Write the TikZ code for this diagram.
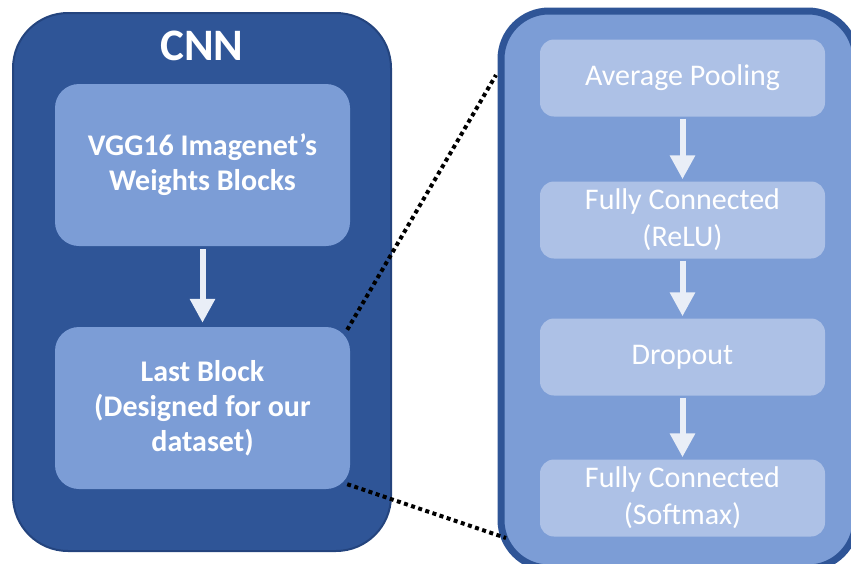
\documentclass[tikz,border=0pt]{standalone}
\usepackage{fontspec}
\setmainfont{Carlito}
\usetikzlibrary{arrows.meta,positioning,calc}
\definecolor{deep}{HTML}{2F5597}
\definecolor{deepline}{HTML}{24447E}
\definecolor{mid}{HTML}{7C9DD6}
\definecolor{pale}{HTML}{ADC1E6}
\definecolor{flow}{HTML}{E9EEF7}

\begin{document}
\begin{tikzpicture}[x=1pt,y=-1pt,
  block/.style={rounded corners=24pt,fill=mid,minimum width=295pt,minimum height=162pt,
                align=center,text=white,font=\fontsize{30}{35}\selectfont\bfseries},
  layer/.style={rounded corners=14pt,fill=pale,minimum width=285pt,minimum height=77pt,
                align=center,text=white,font=\fontsize{30}{37}\selectfont},
  flowarrow/.style={draw=flow,line width=6pt,-{Triangle[width=24pt,length=24pt]}},
  zoomline/.style={line width=4pt,dash pattern=on 4pt off 3.5pt}]
  \useasboundingbox (0,0) rectangle (851,563);
  % left: the whole network
  \draw[fill=deep,draw=deepline,line width=2pt,rounded corners=55pt] (13,13) rectangle (391,551);
  \node[font=\fontsize{45}{50}\selectfont\bfseries,text=white] (title) at (202,46) {CNN};
  \node[block] (vgg) at (202.5,165) {VGG16 Imagenet’s\\Weights Blocks};
  \node[block] (last) at (202.5,408) {Last Block\\(Designed for our\\dataset)};
  \draw[flowarrow,shorten <=3pt,shorten >=4pt] (vgg) -- (last);
  % right: inside the last block
  \draw[fill=mid,draw=deep,line width=7pt,rounded corners=48pt] (501,11) rectangle (856,568);
  \node[layer] (pool) at (682.5,78) {Average Pooling};
  \node[layer] (fc1) at (682.5,220) {Fully Connected\\(ReLU)};
  \node[layer] (drop) at (682.5,357) {Dropout};
  \node[layer] (fc2) at (682.5,498) {Fully Connected\\(Softmax)};
  \foreach \a/\b in {pool/fc1,fc1/drop,drop/fc2}
    \draw[flowarrow,shorten <=2pt,shorten >=2pt] (\a) -- (\b);
  % zoom lines
  \coordinate (zt) at (496,75);
  \coordinate (zb) at (506,538);
  \draw[zoomline] ([shift={(-3,3)}]last.north east) -- (zt);
  \draw[zoomline] ([shift={(-3,-5)}]last.south east) -- (zb);
\end{tikzpicture}
\end{document}
